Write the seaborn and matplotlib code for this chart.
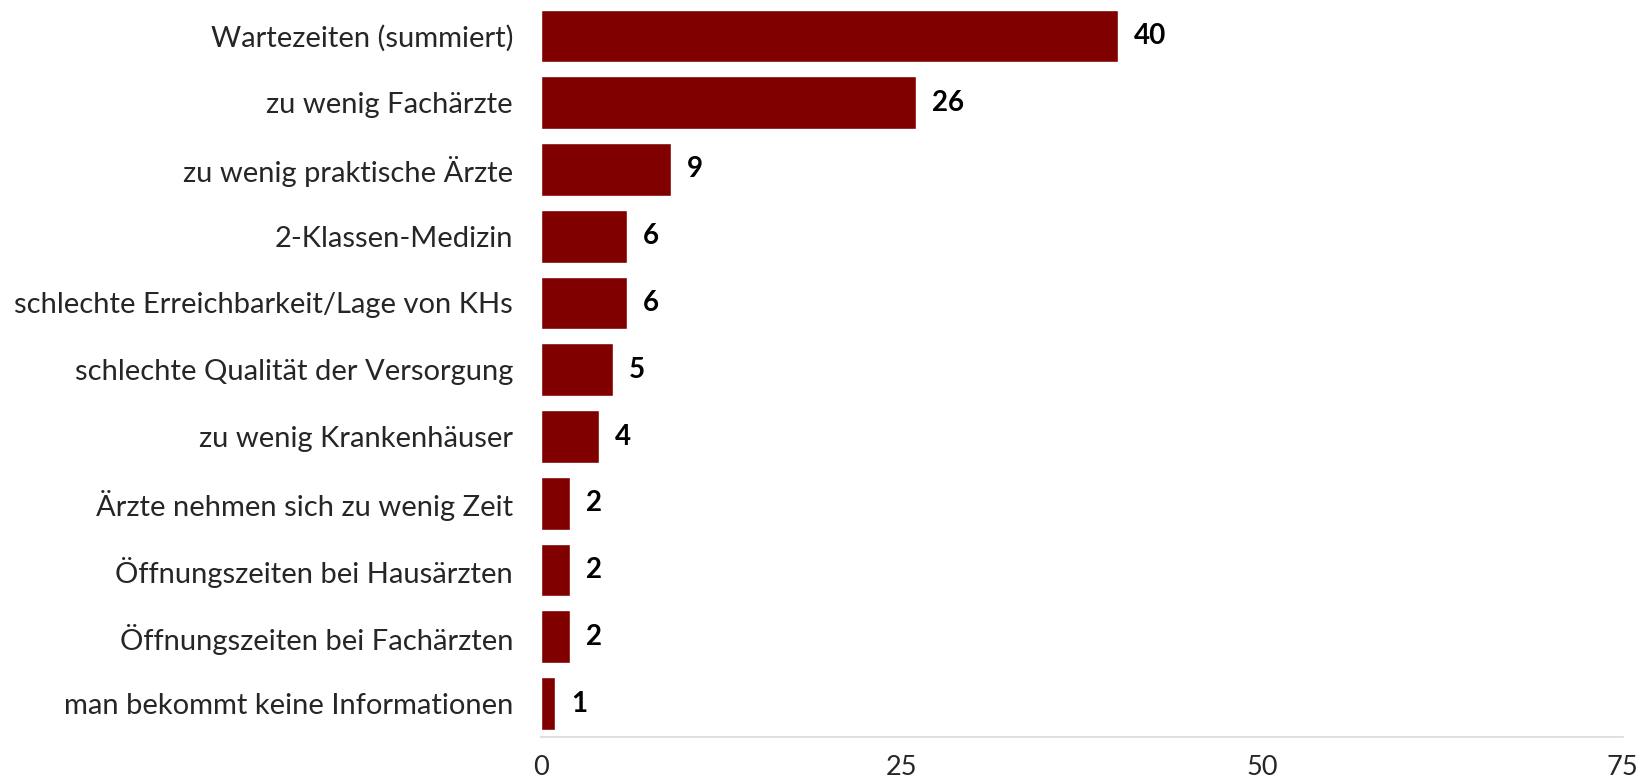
import matplotlib
matplotlib.use("Agg")
import matplotlib.pyplot as plt
import seaborn as sns
import pandas as pd

categories = [
    "Wartezeiten (summiert)",
    "zu wenig Fachärzte",
    "zu wenig praktische Ärzte",
    "2-Klassen-Medizin",
    "schlechte Erreichbarkeit/Lage von KHs",
    "schlechte Qualität der Versorgung",
    "zu wenig Krankenhäuser",
    "Ärzte nehmen sich zu wenig Zeit",
    "Öffnungszeiten bei Hausärzten",
    "Öffnungszeiten bei Fachärzten",
    "man bekommt keine Informationen",
]
values = [40, 26, 9, 6, 6, 5, 4, 2, 2, 2, 1]
xticks = [0, 25, 50, 75]

df = pd.DataFrame({"cat": categories, "val": values})

sns.set_style("white")
plt.rcParams["font.family"] = ["Lato", "DejaVu Sans"]

fig = plt.figure(figsize=(16.49, 7.83), dpi=100)
ax = fig.add_axes([0.328, 0.0588, 0.656, 0.938])

sns.barplot(data=df, x="val", y="cat", orient="h", color="#800000",
            saturation=1, width=0.79, ax=ax)

# value labels right of the bars
for i, v in enumerate(values):
    ax.text(v + 1.1, i, str(v), va="center", ha="left",
            fontsize=20, fontweight="bold", color="black")

ax.set_xlim(0, 75)
ax.set_xticks(xticks)
ax.set_xticklabels([str(t) for t in xticks], fontsize=19.5)
ax.set_ylim(len(categories) - 0.5, -0.5)
ax.tick_params(axis="y", labelsize=21, length=0, pad=20)
ax.tick_params(axis="x", length=0, pad=13)
ax.set_xlabel("")
ax.set_ylabel("")
for s in ["top", "right", "left"]:
    ax.spines[s].set_visible(False)
ax.spines["bottom"].set_color("#d9d9d9")
ax.spines["bottom"].set_linewidth(1.2)

fig.savefig("out.png", dpi=100)
